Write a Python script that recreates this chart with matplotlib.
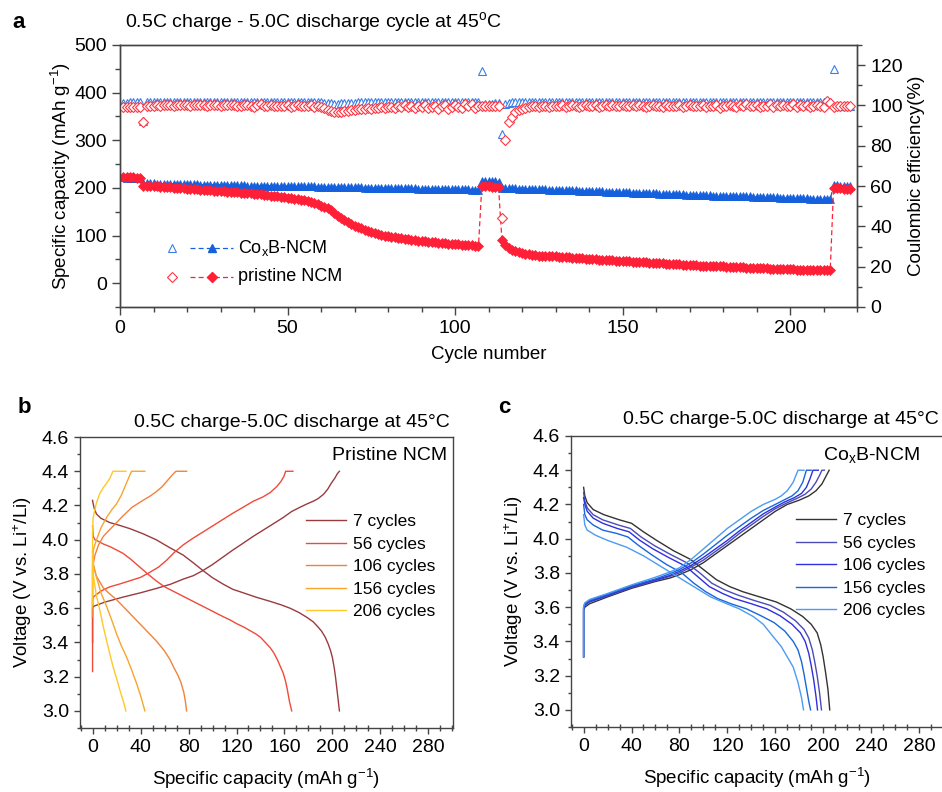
import numpy as np
import matplotlib.pyplot as plt
from matplotlib.ticker import MultipleLocator

plt.rcParams['font.family'] = ['Liberation Sans', 'DejaVu Sans']
plt.rcParams['mathtext.fontset'] = 'custom'
plt.rcParams['mathtext.rm'] = 'Liberation Sans'
plt.rcParams['mathtext.it'] = 'Liberation Sans:italic'
plt.rcParams['mathtext.bf'] = 'Liberation Sans:bold'

# ---------------- (a) cycling at 0.5C charge / 5.0C discharge ----------------
cycles = np.arange(1, 219)

cap_pristine = [
    222, 222, 222, 222, 221, 221,
    205, 204, 204, 203, 203, 202, 202, 201, 201, 200, 200, 199, 199, 198,
    198, 197, 197, 196, 196, 195, 195, 194, 194, 193, 193, 192, 192, 191, 191, 190, 190, 189, 189, 188,
    188, 187, 186, 185, 184, 183, 182, 181, 180, 179, 178, 177, 176, 175, 174, 172, 170, 168, 166, 163,
    160, 157, 153, 148, 142, 137, 132, 128, 124, 121, 118, 115, 112, 110, 108, 106, 104, 102, 100, 99,
    97, 96, 95, 94, 93, 92, 91, 90, 89, 88, 88, 87, 86, 86, 85, 84, 84, 83, 83, 82, 82, 81, 81, 80, 80, 79, 78,
    204, 203, 203, 202, 202, 201,
    90, 80, 74, 70, 67, 65, 63, 62, 61, 60, 59, 58, 58, 57, 57, 56, 56,
    55, 55, 54, 54, 53, 53, 52, 52, 51, 51, 50, 50, 49, 49, 48, 48, 48, 47, 47, 46,
    46, 46, 45, 45, 44, 44, 44, 43, 43, 42, 42, 42, 41, 41, 40, 40, 40, 39, 39, 38,
    38, 38, 37, 37, 37, 36, 36, 35, 35, 35, 34, 34, 34, 33, 33, 33, 32, 32, 32, 31,
    31, 31, 31, 30, 30, 30, 30, 29, 29, 29, 29, 28, 28, 28, 28, 28, 27, 27, 27, 27, 27, 27,
    200, 199, 199, 198, 198, 197,
]

cap_coxb = [
    222, 221, 221, 221, 220, 220,
    210, 210, 210, 210, 209, 209, 209, 209, 209, 209,
    208, 208, 208, 208, 208, 208, 208, 207, 207, 207,
    207, 207, 207, 207, 206, 206, 206, 206, 206, 206,
    206, 205, 205, 205, 205, 205, 205, 205, 204, 204,
    204, 204, 204, 204, 204, 203, 203, 203, 203, 203,
    203, 203, 202, 202, 202, 202, 202, 202, 202, 201,
    201, 201, 201, 201, 201, 201, 200, 200, 200, 200,
    200, 200, 200, 200, 199, 199, 199, 199, 199, 199,
    199, 199, 198, 198, 198, 198, 198, 198, 198, 198,
    197, 197, 197, 197, 197, 197, 197, 197, 196, 196,
    196,
    215, 215, 214, 214, 214, 213,
    200, 199, 199, 199, 199, 198, 198, 198, 198, 198,
    197, 197, 197, 197, 196, 196, 196, 196, 196, 195,
    195, 195, 195, 194, 194, 194, 194, 193, 193, 193,
    193, 192, 192, 192, 192, 191, 191, 191, 191, 190,
    190, 190, 190, 189, 189, 189, 189, 188, 188, 188,
    188, 187, 187, 187, 187, 186, 186, 186, 186, 185,
    185, 185, 185, 184, 184, 184, 184, 183, 183, 183,
    183, 182, 182, 182, 182, 181, 181, 181, 181, 180,
    180, 180, 180, 179, 179, 179, 179, 178, 178, 178,
    178, 178, 177, 177, 177, 177, 176, 176, 176,
    206, 206, 205, 205, 205, 204,
]

ce_pristine = [
    99.2, 99.4, 99.3, 99.3, 99.4, 99.3,
    92.0,
    99.6, 99.8, 99.9, 100.0, 99.9, 100.0, 100.1, 100.0, 99.9, 100.0,
    100.1, 100.0, 100.0, 99.9, 100.1, 100.0, 100.0, 100.1, 99.9, 100.0,
    100.0, 100.1, 99.9, 100.0, 100.0, 100.1, 100.0, 99.8, 99.9, 100.0,
    100.1, 99.7, 99.4, 100.0, 100.9, 99.6, 99.8, 100.0, 99.5, 99.9,
    99.8, 99.6, 100.0, 99.3, 99.8, 100.1, 99.5, 99.9, 99.7, 100.2,
    99.3, 99.8, 99.0, 98.6, 97.8, 97.2, 96.8, 96.6, 96.8, 97.0,
    97.3, 97.5, 97.8, 98.0, 98.3, 98.1, 98.6, 98.4, 98.9, 98.6,
    99.0, 98.7, 99.2, 99.4, 98.8, 99.6, 99.1, 100.1, 99.0, 99.5,
    98.6, 99.8, 99.2, 100.0, 98.8, 99.4, 99.9, 98.3, 99.6, 100.2,
    98.2, 99.1, 100.3, 99.0, 98.7, 100.6, 99.8, 100.8, 98.7, 99.6,
    99.5, 99.6, 99.7, 99.6, 99.7, 99.8,
    44.0, 83.0, 92.0, 94.5, 96.5, 97.8,
    98.4, 98.9, 99.2, 99.5, 99.6, 99.3, 99.8, 99.9, 99.4, 99.8,
    99.5, 99.9, 100.0, 99.3, 99.7, 100.0, 99.8, 99.4, 99.9, 100.1,
    99.6, 99.8, 100.0, 99.4, 99.9, 100.1, 99.7, 100.0, 99.5, 99.9,
    100.1, 99.6, 99.9, 100.0, 99.5, 100.0, 99.8, 99.3, 99.9, 100.1,
    99.6, 99.9, 99.4, 100.0, 99.8, 99.5, 99.9, 100.1, 99.4, 99.8,
    100.0, 99.5, 99.9, 99.7, 100.1, 99.4, 99.9, 99.6, 100.0, 98.9,
    99.5, 99.9, 100.0, 99.6, 99.3, 100.1, 99.8, 100.8, 99.5, 99.9,
    100.1, 99.4, 99.9, 99.6, 100.5, 99.2, 100.0, 99.8, 100.4, 99.5,
    99.9, 100.6, 99.4, 100.0, 99.7, 100.3, 99.2, 99.8, 100.2, 99.6,
    99.4, 102.0, 101.0,
    99.4, 99.7, 99.6, 99.8, 99.7, 99.6,
]

ce_coxb = [
    101.2, 101.4, 101.5, 101.5, 101.6, 101.6,
    92.3,
    101.7, 101.8, 101.8, 101.9, 101.8, 101.8, 101.9, 101.8, 101.8, 101.9,
    101.8, 101.8, 101.9, 101.8, 101.8, 101.9, 101.8, 101.8, 101.8, 101.9,
    101.8, 101.8, 101.9, 101.8, 101.8, 101.8, 101.9, 101.8, 101.8, 101.8,
    101.9, 101.8, 101.8, 101.8, 101.9, 101.8, 101.8, 101.8, 101.9, 101.8,
    101.8, 101.8, 101.9, 101.8, 101.8, 101.8, 101.9, 101.8, 101.8, 101.7,
    101.7, 101.6, 101.5, 101.4, 101.2, 101.0, 100.9, 100.9, 101.0, 101.1,
    101.2, 101.3, 101.4, 101.5, 101.6, 101.6, 101.7, 101.7, 101.8, 101.8,
    101.8, 101.9, 101.8, 101.8, 101.8, 101.9, 101.8, 101.8, 101.8, 101.9,
    101.8, 101.8, 101.8, 101.9, 101.8, 101.8, 101.8, 101.9, 101.8, 101.8,
    101.8, 101.9, 101.8, 101.8, 101.8, 101.9, 101.8, 101.8, 101.7, 101.6,
    117.0,
    100.8, 100.9, 100.9, 101.0, 101.0,
    86.0,
    100.6,
    101.2, 101.5, 101.6, 101.7, 101.8, 101.8, 101.8, 101.9, 101.8, 101.8,
    101.9, 101.8, 101.8, 101.8, 101.9, 101.8, 101.8, 101.9, 101.8, 101.8,
    101.8, 101.9, 101.8, 101.8, 101.8, 101.9, 101.8, 101.8, 101.9, 101.8,
    101.8, 101.8, 101.9, 101.8, 101.8, 101.8, 101.9, 101.8, 101.8, 101.8,
    101.9, 101.8, 101.8, 101.8, 101.9, 101.8, 101.8, 101.9, 101.8, 101.8,
    101.8, 101.9, 101.8, 101.8, 101.8, 101.9, 101.8, 101.8, 101.8, 101.9,
    101.8, 101.8, 101.9, 101.8, 101.8, 101.8, 101.9, 101.8, 101.8, 101.8,
    101.9, 101.8, 101.8, 101.8, 101.9, 101.8, 101.8, 101.9, 101.8, 101.8,
    101.8, 101.9, 101.8, 101.8, 101.8, 101.9, 101.8, 101.8, 101.8, 101.9,
    101.8, 101.8, 101.8, 101.9, 101.8, 101.8, 101.8,
    118.0,
    99.6, 99.7, 99.7, 99.8, 99.8,
]

# ---------------- (b) pristine NCM voltage profiles ----------------
p7_dis_q = [0, 0.5, 1.5, 3.3, 7, 14.4, 22, 31, 42, 53, 64, 75.6, 84, 92, 100, 109, 117, 125.6, 136, 148,
            157, 164.6, 172, 179, 184, 188, 191, 194, 196.5, 198.5, 200, 201.5, 202.5, 203.5, 204.5, 205.3, 205.8]
p7_dis_v = [4.23, 4.21, 4.18, 4.15, 4.125, 4.10, 4.085, 4.065, 4.035, 4.00, 3.955, 3.91, 3.865, 3.82, 3.778, 3.74,
            3.71, 3.69, 3.665, 3.64, 3.62, 3.60, 3.575, 3.545, 3.52, 3.49, 3.465, 3.43, 3.39, 3.35, 3.31, 3.25,
            3.20, 3.14, 3.08, 3.03, 3.00]
p7_chg_q = [0, 0, 0.5, 10, 25.5, 40, 53, 65, 75.6, 84, 92, 100, 109, 117, 125.6, 134, 142, 150, 159, 166,
            173, 179, 184, 188, 192.5, 196, 199, 202, 204, 205.8]
p7_chg_v = [3.40, 3.60, 3.61, 3.635, 3.665, 3.69, 3.715, 3.74, 3.77, 3.79, 3.82, 3.855, 3.90, 3.94, 3.98, 4.02,
            4.055, 4.09, 4.13, 4.165, 4.19, 4.21, 4.225, 4.24, 4.265, 4.295, 4.33, 4.36, 4.385, 4.40]

p56_dis_q = [0, 0.5, 2, 5, 9, 14.4, 20, 25.5, 32, 39.4, 46, 53, 60, 67, 74, 81, 88, 95, 102, 109, 115, 120,
             126, 131, 136, 140, 144, 148, 151, 154, 156.5, 159, 161, 162.5, 164, 165, 166]
p56_dis_v = [4.08, 4.02, 4.00, 3.99, 3.975, 3.96, 3.94, 3.92, 3.885, 3.84, 3.80, 3.76, 3.725, 3.70, 3.675, 3.65,
             3.625, 3.60, 3.575, 3.55, 3.53, 3.51, 3.49, 3.47, 3.45, 3.43, 3.40, 3.37, 3.34, 3.30, 3.26, 3.22,
             3.17, 3.12, 3.06, 3.03, 3.00]
p56_chg_q = [0, 0, 0.5, 7, 14.4, 22, 31, 40, 47.8, 55, 61.7, 68, 75.6, 84, 92, 100, 109, 117, 125.6, 134,
             142, 148, 153.5, 157, 159.5, 161, 167]
p56_chg_v = [3.23, 3.65, 3.665, 3.70, 3.725, 3.74, 3.76, 3.78, 3.81, 3.84, 3.88, 3.925, 3.97, 4.01, 4.045,
             4.08, 4.12, 4.155, 4.19, 4.225, 4.25, 4.275, 4.31, 4.34, 4.37, 4.40, 4.40]

p106_dis_q = [0, 0.5, 3, 8.8, 14, 20, 31, 42, 53, 60, 64.5, 68, 71, 73.5, 76, 77.5, 78.4]
p106_dis_v = [3.93, 3.86, 3.79, 3.72, 3.685, 3.65, 3.57, 3.49, 3.41, 3.35, 3.30, 3.25, 3.21, 3.17, 3.11, 3.05, 3.00]
p106_chg_q = [0, 0, 2, 5, 9, 14.4, 20, 25.5, 33, 42, 48, 53, 58, 61.7, 66, 69.5, 78.4]
p106_chg_v = [3.55, 3.84, 3.91, 3.97, 4.02, 4.06, 4.10, 4.14, 4.19, 4.23, 4.255, 4.28, 4.31, 4.34, 4.375, 4.40, 4.40]

p156_dis_q = [0, 1, 3.3, 7, 11.7, 16, 20, 24, 28, 32, 36.7, 40, 43.6]
p156_dis_v = [3.90, 3.84, 3.78, 3.69, 3.61, 3.53, 3.45, 3.38, 3.32, 3.25, 3.16, 3.09, 3.00]
p156_chg_q = [0, 0, 1, 3.3, 7, 11.7, 16, 20, 24, 27, 30, 32.5, 43.6]
p156_chg_v = [3.60, 3.90, 3.95, 4.00, 4.07, 4.13, 4.175, 4.21, 4.26, 4.31, 4.36, 4.40, 4.40]

p206_dis_q = [0, 0.5, 3, 6, 9, 11.7, 14.5, 17, 20, 22.8, 25.5, 27.8]
p206_dis_v = [3.95, 3.80, 3.68, 3.59, 3.49, 3.41, 3.33, 3.26, 3.19, 3.12, 3.06, 3.00]
p206_chg_q = [0, 0, 0.5, 3, 6, 9, 11.7, 14.5, 17, 27.8]
p206_chg_v = [3.62, 4.05, 4.13, 4.21, 4.27, 4.305, 4.33, 4.36, 4.40, 4.40]

# ---------------- (c) CoxB-NCM voltage profiles ----------------
c7_dis_q = [0, 1, 3, 8, 17, 30, 40, 50, 61, 75, 89, 100, 111, 122, 133, 147, 161, 173, 183, 190, 195, 198, 200, 202, 204, 205.5]
c7_dis_v = [4.30, 4.25, 4.21, 4.17, 4.14, 4.11, 4.09, 4.04, 3.99, 3.93, 3.88, 3.82, 3.76, 3.72, 3.69, 3.66, 3.63, 3.59, 3.545, 3.50, 3.45, 3.38, 3.31, 3.22, 3.12, 3.00]
c7_chg_q = [0, 0, 1, 5, 20, 40, 60, 72, 80, 90, 100, 110, 120, 130, 140, 150, 160, 170, 180, 188, 194, 199, 202, 205]
c7_chg_v = [3.31, 3.58, 3.60, 3.62, 3.66, 3.71, 3.75, 3.77, 3.79, 3.82, 3.86, 3.91, 3.96, 4.01, 4.06, 4.11, 4.16, 4.20, 4.225, 4.25, 4.28, 4.32, 4.36, 4.40]

c56_dis_q = [0, 1, 3, 8, 16, 29, 39, 48, 59, 72, 86, 97, 107, 118, 129, 142, 156, 167, 177, 184, 188, 191, 193, 195, 197, 198.6]
c56_dis_v = [4.27, 4.22, 4.18, 4.14, 4.11, 4.08, 4.06, 4.01, 3.96, 3.91, 3.86, 3.80, 3.74, 3.70, 3.67, 3.64, 3.61, 3.57, 3.52, 3.47, 3.42, 3.35, 3.28, 3.20, 3.10, 3.00]
c56_chg_q = [0, 0, 1, 5, 20, 40, 60, 72, 80, 90, 100, 110, 120, 130, 140, 150, 160, 170, 178, 185, 190, 194, 197, 199, 201]
c56_chg_v = [3.31, 3.59, 3.61, 3.63, 3.665, 3.715, 3.755, 3.78, 3.80, 3.835, 3.875, 3.925, 3.975, 4.03, 4.08, 4.13, 4.175, 4.21, 4.235, 4.26, 4.29, 4.33, 4.37, 4.40, 4.40]

c106_dis_q = [0, 1, 3, 8, 16, 28, 38, 47, 58, 71, 85, 95, 105, 116, 126, 140, 153, 164, 174, 181, 185, 188, 190, 192, 194, 195.3]
c106_dis_v = [4.24, 4.20, 4.16, 4.12, 4.09, 4.06, 4.04, 3.99, 3.94, 3.89, 3.84, 3.78, 3.72, 3.68, 3.65, 3.62, 3.59, 3.55, 3.50, 3.45, 3.40, 3.33, 3.26, 3.18, 3.08, 3.00]
c106_chg_q = [0, 0, 1, 5, 20, 40, 60, 72, 80, 90, 100, 110, 120, 130, 140, 150, 160, 168, 176, 182, 186, 189, 191.5, 196]
c106_chg_v = [3.31, 3.595, 3.615, 3.635, 3.67, 3.72, 3.76, 3.785, 3.81, 3.845, 3.89, 3.94, 3.99, 4.045, 4.095, 4.145, 4.185, 4.215, 4.24, 4.265, 4.30, 4.35, 4.40, 4.40]

c156_dis_q = [0, 1, 3, 8, 16, 28, 37, 46, 56, 69, 82, 92, 102, 112, 123, 136, 148, 159, 168, 175, 179, 182, 184, 186, 188, 189.5]
c156_dis_v = [4.20, 4.14, 4.11, 4.08, 4.05, 4.03, 4.01, 3.96, 3.91, 3.85, 3.80, 3.74, 3.69, 3.65, 3.62, 3.59, 3.55, 3.51, 3.46, 3.40, 3.35, 3.28, 3.21, 3.13, 3.05, 3.00]
c156_chg_q = [0, 0, 1, 5, 20, 40, 60, 72, 80, 90, 100, 110, 120, 130, 140, 150, 160, 167, 174, 179, 183, 186, 190]
c156_chg_v = [3.31, 3.60, 3.62, 3.64, 3.675, 3.725, 3.765, 3.795, 3.82, 3.86, 3.91, 3.965, 4.02, 4.07, 4.12, 4.165, 4.20, 4.225, 4.25, 4.28, 4.33, 4.40, 4.40]

c206_dis_q = [0, 1, 3, 10, 20, 36, 50, 64, 78, 92, 106, 119.5, 130, 141.7, 150, 158, 165, 170, 175, 179, 182, 183.6]
c206_dis_v = [4.14, 4.08, 4.05, 4.02, 3.99, 3.95, 3.90, 3.84, 3.78, 3.72, 3.66, 3.62, 3.59, 3.545, 3.50, 3.43, 3.37, 3.31, 3.25, 3.16, 3.07, 3.00]
c206_chg_q = [0, 0, 1, 5, 20, 40, 60, 72, 80, 90, 100, 110, 120, 130, 140, 150, 160, 165, 170, 175, 179, 184]
c206_chg_v = [3.31, 3.605, 3.625, 3.645, 3.68, 3.73, 3.775, 3.805, 3.83, 3.88, 3.94, 4.00, 4.06, 4.11, 4.16, 4.20, 4.23, 4.25, 4.28, 4.33, 4.40, 4.40]

cycle_labels = ['7 cycles', '56 cycles', '106 cycles', '156 cycles', '206 cycles']
pristine_colors = ['#9A3B3E', '#F04A38', '#F2823A', '#F7A52E', '#FFC727']
coxb_colors = ['#333333', '#4B4BB8', '#2F2FE0', '#1766DD', '#4C9BF2']

RED = '#FF1F36'
RED_O = '#FF3844'
BLUE = '#1560DC'
BLUE_O = '#3C7EE6'
SPINE = '#444444'
FS = 14
FS_LAB = 13.5

fig = plt.figure(figsize=(9.42, 7.92), dpi=100)


def style_axes(ax):
    for s in ax.spines.values():
        s.set_color(SPINE)
        s.set_linewidth(1.0)
    ax.tick_params(which='both', colors=SPINE, labelcolor='black', labelsize=FS, width=1.0)


# ---- panel a ----
ax_a = fig.add_axes([0.1274, 0.6124, 0.7824, 0.3308])
ax_ce = ax_a.twinx()

ax_a.plot(cycles, cap_coxb, ls='--', dashes=(4, 2.5), lw=0.9, color=BLUE,
          marker='^', ms=6, mec=BLUE, mew=0.5)
ax_a.plot(cycles, cap_pristine, ls='--', dashes=(4, 2.5), lw=0.9, color=RED,
          marker='D', ms=5.2, mec=RED, mew=0.5)
ax_ce.plot(cycles, ce_coxb, ls='none', marker='^', ms=6, mfc='white', mec=BLUE_O, mew=0.8)
ax_ce.plot(cycles, ce_pristine, ls='none', marker='D', ms=5.2, mfc='white', mec=RED_O, mew=0.8)

ax_a.set_xlim(0, 220)
ax_a.set_ylim(-50, 500)
ax_ce.set_ylim(0, 130)
ax_a.xaxis.set_major_locator(MultipleLocator(50))
ax_a.xaxis.set_minor_locator(MultipleLocator(10))
ax_a.yaxis.set_major_locator(MultipleLocator(100))
ax_a.yaxis.set_minor_locator(MultipleLocator(50))
ax_ce.yaxis.set_major_locator(MultipleLocator(20))
ax_ce.yaxis.set_minor_locator(MultipleLocator(10))
for ax in (ax_a, ax_ce):
    style_axes(ax)
    ax.tick_params(which='major', direction='out', length=6)
    ax.tick_params(which='minor', direction='out', length=3.5)
ax_a.tick_params(top=False, right=False)
ax_ce.tick_params(left=False, right=True)
ax_a.set_xlabel('Cycle number', fontsize=FS_LAB, labelpad=6)
ax_a.set_ylabel('Specific capacity (mAh g$^{-1}$)', fontsize=FS_LAB, labelpad=1)
ax_ce.set_ylabel('Coulombic efficiency(%)', fontsize=FS_LAB, labelpad=4)

# two-marker legend: open symbol for efficiency, dashed line + filled symbol for capacity
for yy, mk, ms, c_open, c_fill, lab in [(0.225, '^', 6, BLUE_O, BLUE, 'Co$_\\mathrm{x}$B-NCM'),
                                        (0.1145, 'D', 5.2, RED_O, RED, 'pristine NCM')]:
    ax_a.plot([0.0706], [yy], transform=ax_a.transAxes, ls='none', marker=mk, ms=ms,
              mfc='white', mec=c_open, mew=0.8, clip_on=False)
    ax_a.plot([0.095, 0.1533], [yy, yy], transform=ax_a.transAxes, ls='--', dashes=(4, 2.5),
              lw=0.9, color=c_fill)
    ax_a.plot([0.1248], [yy], transform=ax_a.transAxes, ls='none', marker=mk, ms=ms,
              color=c_fill, mec=c_fill)
    ax_a.text(0.160, yy, lab, transform=ax_a.transAxes, fontsize=13, va='center', ha='left')

fig.text(0.013, 0.972, 'a', fontsize=16, weight='bold', va='center')
fig.text(0.1327, 0.972, '0.5C charge - 5.0C discharge cycle at 45$^\\mathrm{o}$C',
         fontsize=FS, va='center', ha='left')


# ---- panels b and c ----
def profile_panel(ax, curves, colors, name, name_x):
    for (dq, dv, cq, cv), col, lab in zip(curves, colors, cycle_labels):
        ax.plot(cq, cv, color=col, lw=1.0, label=lab)
        ax.plot(dq, dv, color=col, lw=1.0)
    ax.set_xlim(-10.5, 300.5)
    ax.set_ylim(2.9, 4.6)
    ax.xaxis.set_major_locator(MultipleLocator(40))
    ax.xaxis.set_minor_locator(MultipleLocator(10))
    ax.yaxis.set_major_locator(MultipleLocator(0.2))
    ax.yaxis.set_minor_locator(MultipleLocator(0.1))
    ax.yaxis.set_major_formatter(plt.FormatStrFormatter('%.1f'))
    style_axes(ax)
    ax.tick_params(which='major', direction='out', length=4.5)
    ax.tick_params(which='minor', direction='out', length=2.5)
    ax.tick_params(axis='x', which='minor', direction='inout', length=4)
    ax.set_xlabel('Specific capacity (mAh g$^{-1}$)', fontsize=FS_LAB, labelpad=8)
    ax.set_ylabel('Voltage (V vs. Li$^{+}$/Li)', fontsize=FS_LAB, labelpad=5.5)
    ax.text(name_x, 0.935, name, transform=ax.transAxes, fontsize=FS, ha='right', va='center')
    ax.legend(loc='upper left', bbox_to_anchor=(0.605, 0.735), frameon=False,
              fontsize=12.5, handlelength=2.3, handletextpad=0.4, labelspacing=0.42,
              borderpad=0, borderaxespad=0)


ax_b = fig.add_axes([0.0849, 0.0808, 0.3960, 0.3674])
profile_panel(ax_b,
              [(p7_dis_q, p7_dis_v, p7_chg_q, p7_chg_v),
               (p56_dis_q, p56_dis_v, p56_chg_q, p56_chg_v),
               (p106_dis_q, p106_dis_v, p106_chg_q, p106_chg_v),
               (p156_dis_q, p156_dis_v, p156_chg_q, p156_chg_v),
               (p206_dis_q, p206_dis_v, p206_chg_q, p206_chg_v)],
              pristine_colors, 'Pristine NCM', 0.983)

ax_c = fig.add_axes([0.6062, 0.0821, 0.3954, 0.3674])
profile_panel(ax_c,
              [(c7_dis_q, c7_dis_v, c7_chg_q, c7_chg_v),
               (c56_dis_q, c56_dis_v, c56_chg_q, c56_chg_v),
               (c106_dis_q, c106_dis_v, c106_chg_q, c106_chg_v),
               (c156_dis_q, c156_dis_v, c156_chg_q, c156_chg_v),
               (c206_dis_q, c206_dis_v, c206_chg_q, c206_chg_v)],
              coxb_colors, 'Co$_\\mathrm{x}$B-NCM', 0.937)

fig.text(0.019, 0.485, 'b', fontsize=16, weight='bold', va='center')
fig.text(0.4777, 0.467, '0.5C charge-5.0C discharge at 45\u00b0C', fontsize=FS, ha='right', va='center')
fig.text(0.5287, 0.485, 'c', fontsize=16, weight='bold', va='center')
fig.text(0.9968, 0.4697, '0.5C charge-5.0C discharge at 45\u00b0C', fontsize=FS, ha='right', va='center')

fig.savefig('out.png', dpi=100)
